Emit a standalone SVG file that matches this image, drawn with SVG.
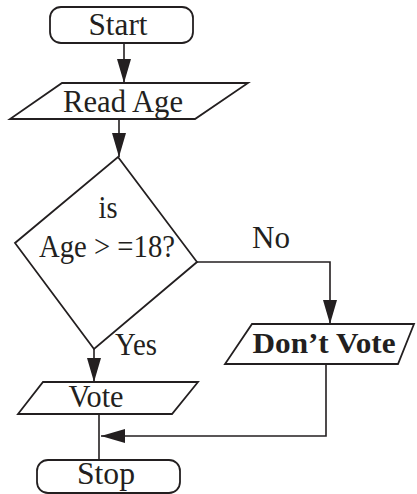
<svg xmlns="http://www.w3.org/2000/svg" width="417" height="494" viewBox="0 0 417 494">
<style>
.s{fill:#fff;stroke:#231f20;stroke-width:1.8}
.c{fill:none;stroke:#231f20;stroke-width:1.6}
.t{font-family:"Liberation Serif","Times New Roman",serif;font-size:31px;fill:#231f20;text-anchor:middle}
.b{font-weight:bold;font-size:30px}
</style>
<defs>
<marker id="ah" viewBox="0 0 24 14" refX="24" refY="7" markerWidth="24" markerHeight="14" markerUnits="userSpaceOnUse" orient="auto">
<path d="M0,0 L24,7 L0,14 Z" fill="#231f20"/>
</marker>
</defs>
<g id="connectors">
<line class="c" x1="124" y1="43" x2="124" y2="83" marker-end="url(#ah)"/>
<line class="c" x1="119" y1="119" x2="119" y2="157" marker-end="url(#ah)"/>
<polyline class="c" points="197,262 330,262 330,324" marker-end="url(#ah)"/>
<line class="c" x1="94" y1="349" x2="94" y2="382" marker-end="url(#ah)"/>
<line class="c" x1="99" y1="414" x2="99" y2="460"/>
<polyline class="c" points="326,364 326,436 101,436" marker-end="url(#ah)"/>
<text class="t" x="271" y="248" textLength="38" lengthAdjust="spacingAndGlyphs">No</text>
<text class="t" x="136" y="355" textLength="42" lengthAdjust="spacingAndGlyphs">Yes</text>
</g>
<g id="start">
<rect class="s" x="50" y="7" width="143" height="36" rx="11"/>
<text class="t" x="118" y="35" textLength="59" lengthAdjust="spacingAndGlyphs">Start</text>
</g>
<g id="read-age">
<polygon class="s" points="62,83 248,83 195,119 10,119"/>
<text class="t" x="123" y="112" textLength="120" lengthAdjust="spacingAndGlyphs">Read Age</text>
</g>
<g id="decision">
<polygon class="s" points="118,157 197,262 94,349 15,243"/>
<text class="t" x="108" y="218" textLength="19" lengthAdjust="spacingAndGlyphs">is</text>
<text class="t" x="107" y="257" textLength="136" lengthAdjust="spacingAndGlyphs">Age &gt; =18?</text>
</g>
<g id="dont-vote">
<polygon class="s" points="252,324 414,324 398,364 225,364"/>
<text class="t b" x="324" y="353" textLength="143" lengthAdjust="spacingAndGlyphs">Don’t Vote</text>
</g>
<g id="vote">
<polygon class="s" points="43,382 198,382 172,414 18,414"/>
<text class="t" x="96" y="407" textLength="55" lengthAdjust="spacingAndGlyphs">Vote</text>
</g>
<g id="stop">
<rect class="s" x="37" y="460" width="143" height="33" rx="11"/>
<text class="t" x="106" y="484" textLength="58" lengthAdjust="spacingAndGlyphs">Stop</text>
</g>
</svg>
